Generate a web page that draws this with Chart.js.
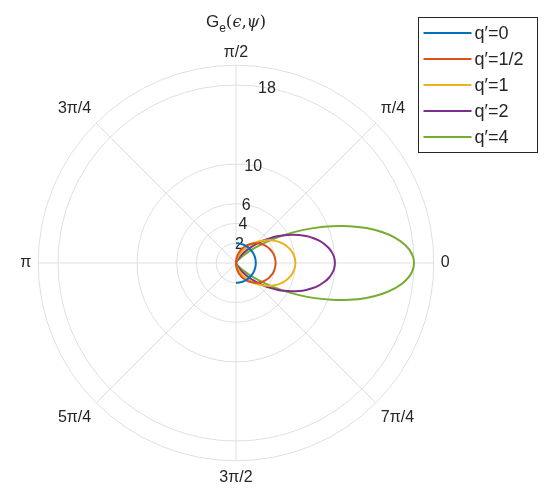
<!DOCTYPE html>
<html>
<head>
<meta charset="utf-8">
<script src="https://cdn.jsdelivr.net/npm/chart.js@4.4.1/dist/chart.umd.min.js"></script>
<style>
body{margin:0;background:#fff;}
canvas{display:block;}
</style>
</head>
<body>
<canvas id="polarchart" width="553" height="498"></canvas>
<script>
// angle psi in degrees, front half only (nothing is plotted behind)
var psiDeg=[-90,-87,-84,-81,-78,-75,-72,-69,-66,-63,-60,-57,-54,-51,-48,-45,-42,-39,-36,-33,-30,-27,-24,-21,-18,-15,-12,-9,-6,-3,
    0,3,6,9,12,15,18,21,24,27,30,33,36,39,42,45,48,51,54,57,60,63,66,69,72,75,78,81,84,87,90];
var seriesNames=['q\u2032=0','q\u2032=1/2','q\u2032=1','q\u2032=2','q\u2032=4'];
var seriesColors=['#0072BD','#D95319','#EDB120','#7E2F8E','#77AC30'];
var gQ0=[2,2,2,2,2,2,2,2,2,2,2,2,2,2,2,2,2,2,2,2,2,2,2,2,2,2,2,2,2,2,
    2,2,2,2,2,2,2,2,2,2,2,2,2,2,2,2,2,2,2,2,2,2,2,2,2,2,2,2,2,2,2];
var gQhalf=[0,0.209,0.418,0.626,0.832,1.035,1.236,1.434,1.627,1.816,2.000,2.179,2.351,2.517,2.677,2.828,2.973,3.109,3.236,3.355,3.464,3.564,3.654,3.734,3.804,3.864,3.913,3.951,3.978,3.995,
    4.000,3.995,3.978,3.951,3.913,3.864,3.804,3.734,3.654,3.564,3.464,3.355,3.236,3.109,2.973,2.828,2.677,2.517,2.351,2.179,2.000,1.816,1.627,1.434,1.236,1.035,0.832,0.626,0.418,0.209,0];
var gQ1=[0,0.016,0.066,0.147,0.259,0.402,0.573,0.771,0.993,1.237,1.500,1.780,2.073,2.376,2.686,3.000,3.314,3.624,3.927,4.220,4.500,4.763,5.007,5.229,5.427,5.598,5.741,5.853,5.934,5.984,
    6.000,5.984,5.934,5.853,5.741,5.598,5.427,5.229,5.007,4.763,4.500,4.220,3.927,3.624,3.314,3.000,2.686,2.376,2.073,1.780,1.500,1.237,0.993,0.771,0.573,0.402,0.259,0.147,0.066,0.016,0];
var gQ2=[0,0,0.001,0.006,0.019,0.045,0.091,0.165,0.274,0.425,0.625,0.880,1.194,1.569,2.005,2.500,3.050,3.648,4.284,4.947,5.625,6.303,6.965,7.596,8.181,8.705,9.154,9.517,9.783,9.945,
    10.000,9.945,9.783,9.517,9.154,8.705,8.181,7.596,6.965,6.303,5.625,4.947,4.284,3.648,3.050,2.500,2.005,1.569,1.194,0.880,0.625,0.425,0.274,0.165,0.091,0.045,0.019,0.006,0.001,0,0];
var gQ4=[0,0,0,0,0,0,0.001,0.005,0.013,0.032,0.070,0.139,0.256,0.443,0.723,1.125,1.674,2.395,3.303,4.406,5.695,7.150,8.732,10.387,12.048,13.640,15.084,16.302,17.226,17.804,
    18.000,17.804,17.226,16.302,15.084,13.640,12.048,10.387,8.732,7.150,5.695,4.406,3.303,2.395,1.674,1.125,0.723,0.443,0.256,0.139,0.070,0.032,0.013,0.005,0.001,0,0,0,0,0,0];
var rTicks=[2,4,6,10,18];
var rMax=20;
var thetaLabels={0:'0',45:'\u03c0/4',90:'\u03c0/2',135:'3\u03c0/4',180:'\u03c0',225:'5\u03c0/4',270:'3\u03c0/2',315:'7\u03c0/4'};

var fontFamily="'Liberation Sans', Arial, sans-serif";
var gridColor='#dfdfdf';
var textColor='#262626';
var step=3, nAngles=360/step;

// radar goes clockwise from the right, so index i sits at theta=-i*step
function thetaOf(i){var t=(-i*step)%360; if(t<=-180) t+=360; return t;}
var angleLabels=[];
for(var i=0;i<nAngles;i++){
    var t=((thetaOf(i))+360)%360;
    angleLabels.push(thetaLabels[t]!==undefined?thetaLabels[t]:'');
}
function toRadar(values){
    var out=[];
    for(var i=0;i<nAngles;i++){
        var k=psiDeg.indexOf(thetaOf(i));
        out.push(k>=0?values[k]:null);
    }
    return out;
}
var allSeries=[gQ0,gQhalf,gQ1,gQ2,gQ4];
var datasets=allSeries.map(function(s,j){
    return {label:seriesNames[j],data:toRadar(s),borderColor:seriesColors[j],backgroundColor:seriesColors[j],
        fill:false,borderWidth:2,pointRadius:0,tension:0.3,spanGaps:false};
});

var rTickLabels={
    id:'rTickLabels',
    beforeDatasetsDraw:function(chart){
        var sc=chart.scales.r, c=chart.ctx, a=80*Math.PI/180;
        c.save();
        c.font='16px '+fontFamily;
        c.fillStyle=textColor;
        c.textAlign='center';
        c.textBaseline='middle';
        rTicks.forEach(function(v){
            var d=sc.getDistanceFromCenterForValue(v);
            c.fillText(String(v),sc.xCenter+d*Math.cos(a),sc.yCenter-d*Math.sin(a)+1);
        });
        c.restore();
    }
};

var titleAndLegend={
    id:'titleAndLegend',
    afterDraw:function(chart){
        var c=chart.ctx, sc=chart.scales.r;
        c.save();
        // title G_e(eps,psi)
        var parts=[
            {t:'G',f:'17px '+fontFamily,dy:0},
            {t:'e',f:'12px '+fontFamily,dy:5},
            {t:'(',f:"17px 'DejaVu Serif', serif",dy:0},
            {t:'\u03f5',f:"italic 16px 'DejaVu Serif', serif",dy:0},
            {t:',',f:"17px 'DejaVu Serif', serif",dy:0},
            {t:'\u03c8',f:"italic 16px 'DejaVu Serif', serif",dy:0},
            {t:')',f:"17px 'DejaVu Serif', serif",dy:0}
        ];
        var total=0;
        parts.forEach(function(p){c.font=p.f;p.w=c.measureText(p.t).width;total+=p.w;});
        var x=sc.xCenter-total/2, base=27;
        c.fillStyle=textColor;
        c.textBaseline='alphabetic';
        c.textAlign='left';
        parts.forEach(function(p){c.font=p.f;c.fillText(p.t,x,base+p.dy);x+=p.w;});

        // legend box
        var lx=418.5, ly=17.5, lw=119, lh=135, row=26;
        c.fillStyle='#fff';
        c.fillRect(lx,ly,lw,lh);
        c.strokeStyle='#262626';
        c.lineWidth=1;
        c.strokeRect(lx,ly,lw,lh);
        c.font='18px '+fontFamily;
        c.textBaseline='middle';
        chart.data.datasets.forEach(function(ds,j){
            var y=ly+15.5+j*row;
            c.strokeStyle=ds.borderColor;
            c.lineWidth=2;
            c.beginPath();
            c.moveTo(lx+5,y);
            c.lineTo(lx+53,y);
            c.stroke();
            c.fillStyle=textColor;
            c.fillText(ds.label,lx+56,y+1);
        });
        c.restore();
    }
};

var ctxchart=document.getElementById('polarchart').getContext('2d');
var mychart=new Chart(ctxchart,{
    type:'radar',
    data:{labels:angleLabels,datasets:datasets},
    options:{
        responsive:false,
        animation:false,
        devicePixelRatio:1,
        layout:{padding:{left:11,top:42,right:94,bottom:8}},
        plugins:{legend:{display:false},tooltip:{enabled:false},title:{display:false}},
        scales:{
            r:{
                min:0,
                max:rMax,
                startAngle:90,
                afterBuildTicks:function(scale){
                    scale.ticks=[0].concat(rTicks,[rMax]).map(function(v){return {value:v};});
                },
                ticks:{display:false},
                grid:{circular:true,color:gridColor,lineWidth:1},
                angleLines:{
                    color:function(ctx){return ctx.index%15===0?gridColor:'rgba(0,0,0,0)';},
                    lineWidth:1
                },
                pointLabels:{
                    font:{family:fontFamily,size:16},
                    color:textColor,
                    padding:function(ctx){
                        if(!ctx.label) return 0;
                        return ctx.label==='\u03c0/2'?3:7;
                    }
                }
            }
        }
    },
    plugins:[rTickLabels,titleAndLegend]
});
</script>
</body>
</html>
